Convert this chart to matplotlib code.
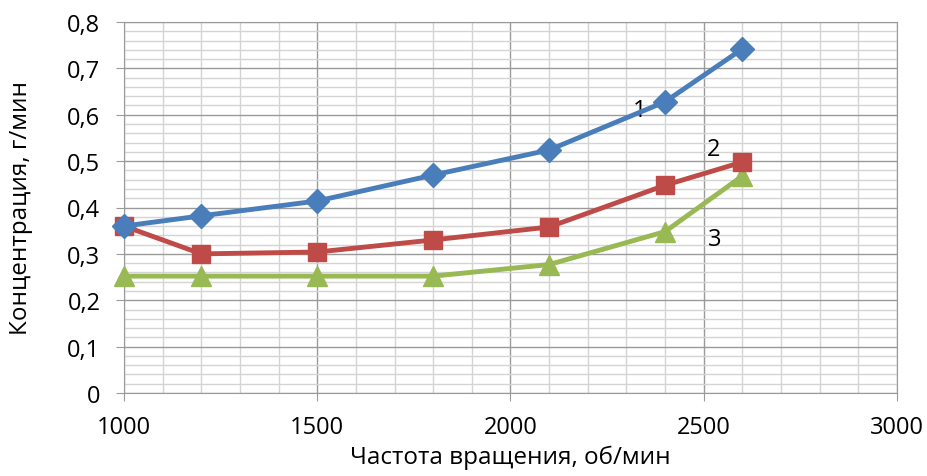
import matplotlib.pyplot as plt
from matplotlib.ticker import MultipleLocator, FuncFormatter

plt.rcParams['font.family'] = ['Open Sans', 'DejaVu Sans']

# rotation speed, rpm
speed = [1000, 1200, 1500, 1800, 2100, 2400, 2600]
# concentration, g/min
conc_1 = [0.36, 0.382, 0.414, 0.47, 0.524, 0.628, 0.742]
conc_2 = [0.36, 0.30, 0.304, 0.33, 0.358, 0.448, 0.498]
conc_3 = [0.252, 0.252, 0.252, 0.252, 0.277, 0.348, 0.468]

fig = plt.figure(figsize=(9.28, 4.77), dpi=100)
ax = fig.add_axes([124 / 928, 1 - 394 / 477, (897 - 124) / 928, (394 - 23) / 477])

ax.plot(speed, conc_1, color='#4A7EBB', lw=3.5, marker='D', ms=12, zorder=5, clip_on=False)
ax.plot(speed, conc_2, color='#BE4B48', lw=3.5, marker='s', ms=13, zorder=4, clip_on=False)
ax.plot(speed, conc_3, color='#98B954', lw=3.5, marker='^', ms=14, zorder=3, clip_on=False)

ax.text(2335, 0.61, '1', fontsize=17, ha='center', va='center')
ax.text(2525, 0.526, '2', fontsize=17, ha='center', va='center')
ax.text(2528, 0.333, '3', fontsize=17, ha='center', va='center')

ax.set_xlim(1000, 3000)
ax.set_ylim(0, 0.8)
ax.xaxis.set_major_locator(MultipleLocator(500))
ax.xaxis.set_minor_locator(MultipleLocator(100))
ax.yaxis.set_major_locator(MultipleLocator(0.1))
ax.yaxis.set_minor_locator(MultipleLocator(0.02))
ax.yaxis.set_major_formatter(FuncFormatter(lambda v, p: f'{v:.1f}'.replace('.', ',') if v else '0'))

ax.grid(which='major', color='#9a9a9a', lw=1)
ax.grid(which='minor', color='#d4d4d4', lw=1)
ax.set_axisbelow(True)
for s in ax.spines.values():
    s.set_color('#9a9a9a')
ax.tick_params(which='major', direction='out', length=6, color='#9a9a9a', labelsize=17)
ax.tick_params(axis='x', pad=10)
ax.tick_params(axis='y', pad=11)
ax.tick_params(which='minor', length=0)

ax.set_xlabel('Частота вращения, об/мин', fontsize=17.5)
ax.set_ylabel('Концентрация, г/мин', fontsize=17.5)
ax.xaxis.set_label_coords(0.5, -0.14)
ax.yaxis.set_label_coords(-0.118, 0.5)

fig.savefig('out.png', dpi=100)
